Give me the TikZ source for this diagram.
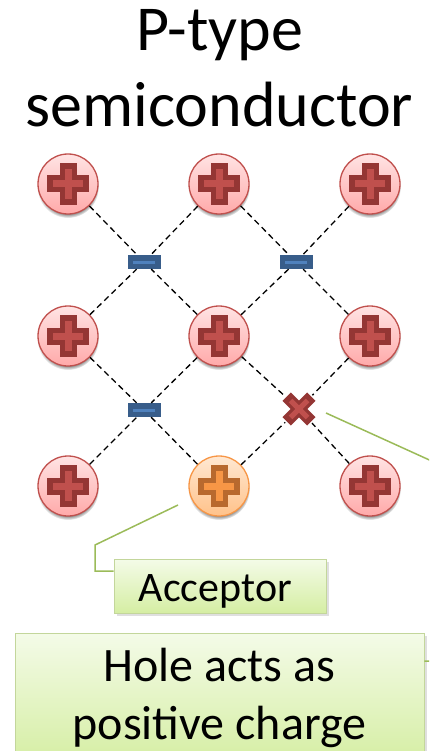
\documentclass[tikz,border=0pt]{standalone}
\usepackage{fontspec}
\setmainfont{Carlito}
\usetikzlibrary{positioning, shadows}

\definecolor{atomline}{HTML}{C0504D}
\definecolor{atomdark}{HTML}{943634}
\definecolor{atomtop}{HTML}{FFE4E4}
\definecolor{atombot}{HTML}{FFA9A9}
\definecolor{accline}{HTML}{F79646}
\definecolor{accdark}{HTML}{B8692E}
\definecolor{acctop}{HTML}{FFE8D2}
\definecolor{accbot}{HTML}{FFC28A}
\definecolor{minusdark}{HTML}{385D8A}
\definecolor{minuslight}{HTML}{4F81BD}
\definecolor{calloutline}{HTML}{9BBB59}
\definecolor{notetop}{HTML}{F4FBE8}
\definecolor{notebot}{HTML}{D5EEA3}

% the plus sign inside an atom
\newcommand{\plusmark}[2]{%
  \coordinate (pp) at (path picture bounding box.center);
  \draw[#1, line width = 17pt] ([xshift = -21pt]pp) -- ([xshift = 21pt]pp)
    ([yshift = -21pt]pp) -- ([yshift = 21pt]pp);
  \draw[#2, line width = 7pt] ([xshift = -15pt]pp) -- ([xshift = 15pt]pp)
    ([yshift = -15pt]pp) -- ([yshift = 15pt]pp);}

\begin{document}
\begin{tikzpicture}[x = 1pt, y = -1pt,
    atom/.style = { circle, draw = atomline, line width = 1.3pt, minimum size = 60pt, inner sep = 0pt,
      top color = atomtop, bottom color = atombot,
      circular drop shadow = {shadow xshift=0pt, shadow yshift=-3pt, shadow scale=1.03},
      path picture = { \plusmark{atomdark}{atomline} } },
    acceptor/.style = { atom, draw = accline, top color = acctop, bottom color = accbot,
      path picture = { \plusmark{accdark}{accline} } },
    minus/.style = { rectangle, fill = minusdark, minimum width = 33pt, minimum height = 14pt, inner sep = 0pt,
      path picture = { \draw[minuslight, line width = 3pt]
        ([xshift = -11pt]path picture bounding box.center) -- ([xshift = 11pt]path picture bounding box.center); } },
    holemark/.style = { circle, minimum size = 38pt, inner sep = 0pt,
      path picture = {
        \coordinate (hc) at (path picture bounding box.center);
        \draw[atomdark, line width = 12pt] ([shift = {(-12.3pt,-12.3pt)}]hc) -- ([shift = {(12.3pt,12.3pt)}]hc)
          ([shift = {(-12.3pt,12.3pt)}]hc) -- ([shift = {(12.3pt,-12.3pt)}]hc);
        \draw[atomline, line width = 5pt] ([shift = {(-8.5pt,-8.5pt)}]hc) -- ([shift = {(8.5pt,8.5pt)}]hc)
          ([shift = {(-8.5pt,8.5pt)}]hc) -- ([shift = {(8.5pt,-8.5pt)}]hc); } },
    bond/.style = { dash pattern = on 6pt off 4pt, line width = 1.3pt },
    callout/.style = { draw = calloutline, line width = 1.5pt },
    note/.style = { draw = calloutline!60, line width = .8pt, top color = notetop, bottom color = notebot,
      drop shadow = {opacity=.25, shadow xshift=3pt, shadow yshift=-3pt},
      align = center, inner sep = 0pt }]

  \useasboundingbox (0,0) rectangle (429,751);
  \clip (0,0) rectangle (429,751);

  \node [align = center, anchor = base, font = \fontsize{64}{76}\selectfont] (title) at (219.5,127)
    { P-type \\ semiconductor };

  % callouts
  \node [note, minimum width = 212pt, minimum height = 54pt, text height = 41pt, text depth = 10pt,
    font = \fontsize{42}{51}\selectfont] (acc) at (220,586) { Acceptor };
  \node [note, minimum width = 409pt, minimum height = 130pt,
    font = \fontsize{48}{58}\selectfont] (hole note) at (219.5,698) { Hole acts as \\ positive charge };
  \coordinate (accpin) at (178,505);
  \coordinate (holepin) at (326,413);
  \draw[callout] (accpin) -- (95,545) |- ([yshift = 15pt]acc.west);
  \draw[callout] (holepin) -- (480,483) |- ([yshift = 37pt]hole note.east);

  % lattice
  \node [atom] (a11) at (68,184) {};
  \node [atom] (a12) at (219,184) {};
  \node [atom] (a13) at (370,184) {};
  \node [atom] (a21) at (68,336) {};
  \node [atom] (a22) at (219,336) {};
  \node [atom] (a23) at (370,336) {};
  \node [atom] (a31) at (68,486) {};
  \node [acceptor] (a32) at (219,486) {};
  \node [atom] (a33) at (370,486) {};

  \node [minus] (m1) at (144,262) {};
  \node [minus] (m2) at (296,262) {};
  \node [minus] (m3) at (144,410) {};
  \node [holemark] (hole) at (299,409) {};

  \draw[bond] (a11) -- (m1) (a12) -- (m1) (a21) -- (m1) (a22) -- (m1);
  \draw[bond] (a12) -- (m2) (a13) -- (m2) (a22) -- (m2) (a23) -- (m2);
  \draw[bond] (a21) -- (m3) (a22) -- (m3) (a31) -- (m3) (a32) -- (m3);
  \draw[bond] (a22) -- (hole) (a23) -- (hole) (a32) -- (hole) (a33) -- (hole);

\end{tikzpicture}
\end{document}
